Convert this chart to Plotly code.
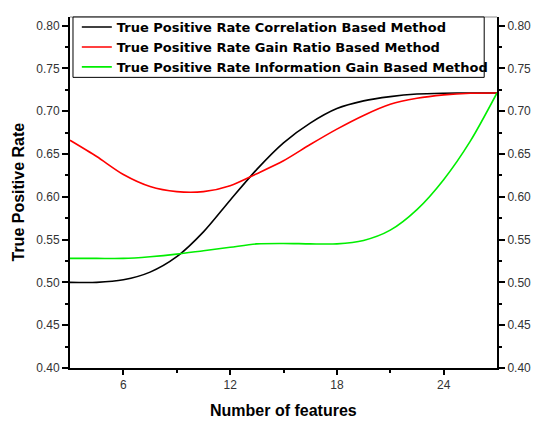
import plotly.graph_objects as go

features = [3, 4.5, 6, 7.5, 9, 10.5, 12, 13.5, 15, 16.5, 18, 19.5, 21, 22.5, 24, 25.5, 27]
tpr_correlation = [0.500, 0.500, 0.503, 0.512, 0.530, 0.559, 0.596, 0.632, 0.663, 0.686,
                   0.703, 0.712, 0.717, 0.720, 0.721, 0.7213, 0.7213]
tpr_gain_ratio = [0.666, 0.647, 0.626, 0.612, 0.606, 0.606, 0.613, 0.627, 0.642, 0.661,
                  0.679, 0.695, 0.708, 0.715, 0.719, 0.721, 0.7213]
tpr_info_gain = [0.528, 0.528, 0.528, 0.530, 0.533, 0.537, 0.541, 0.545, 0.5455, 0.545,
                 0.545, 0.549, 0.561, 0.585, 0.620, 0.665, 0.7213]

series_names = [
    "True Positive Rate Correlation Based Method",
    "True Positive Rate Gain Ratio Based Method",
    "True Positive Rate Information Gain Based Method",
]
colors = ["#000000", "#ff0000", "#00ee00"]

x_ticks = [6, 12, 18, 24]
y_ticks = [0.40, 0.45, 0.50, 0.55, 0.60, 0.65, 0.70, 0.75, 0.80]
y_tick_text = ["%.2f" % v for v in y_ticks]

fig = go.Figure()
for name, ys, c in zip(series_names, [tpr_correlation, tpr_gain_ratio, tpr_info_gain], colors):
    fig.add_trace(go.Scatter(x=features, y=ys, mode="lines", name=name,
                             line=dict(color=c, width=1.6, shape="spline", smoothing=0.8)))

# invisible trace to carry the mirrored right axis
fig.add_trace(go.Scatter(x=[features[0]], y=[y_ticks[0]], yaxis="y2", mode="markers",
                         marker=dict(opacity=0), showlegend=False, hoverinfo="skip"))

tick_font = dict(family="Liberation Sans, Arial, sans-serif", size=12, color="#333333")
yrange = [0.40, 0.810]
minor_y = [0.425, 0.475, 0.525, 0.575, 0.625, 0.675, 0.725, 0.775]

fig.update_layout(
    width=543, height=421,
    margin=dict(l=70, r=35, t=14, b=53),
    paper_bgcolor="white", plot_bgcolor="white",
    showlegend=True,
    legend=dict(x=0.016, y=1.014, xanchor="left", yanchor="top",
                bgcolor="rgba(0,0,0,0)", borderwidth=0,
                font=dict(family="DejaVu Sans, sans-serif", size=13, color="#000000",
                          weight="bold"),
                tracegroupgap=0, itemwidth=30),
    xaxis=dict(range=[3, 27], tickmode="array", tickvals=x_ticks,
               ticks="outside", ticklen=5, tickwidth=2, tickcolor="#000000",
               showline=True, linecolor="#000000", linewidth=2,
               showgrid=False, zeroline=False, tickfont=tick_font,
               minor=dict(tickvals=[9, 15, 21], ticks="outside", ticklen=3, tickwidth=2,
                          tickcolor="#000000", showgrid=False)),
    yaxis=dict(range=yrange, tickmode="array", tickvals=y_ticks, ticktext=y_tick_text,
               ticks="outside", ticklen=6, tickwidth=2, tickcolor="#000000",
               showline=True, linecolor="#000000", linewidth=2,
               showgrid=False, zeroline=False, tickfont=tick_font,
               minor=dict(tickvals=minor_y, ticks="outside", ticklen=3, tickwidth=2,
                          tickcolor="#000000", showgrid=False)),
    yaxis2=dict(range=yrange, overlaying="y", side="right", anchor="x",
                tickmode="array", tickvals=y_ticks, ticktext=y_tick_text,
                ticks="outside", ticklen=6, tickwidth=2, tickcolor="#000000",
                showline=True, linecolor="#000000", linewidth=2,
                showgrid=False, zeroline=False, tickfont=tick_font,
                minor=dict(tickvals=minor_y, ticks="outside", ticklen=3, tickwidth=2,
                           tickcolor="#000000", showgrid=False)),
    shapes=[
        dict(type="line", xref="paper", yref="paper", x0=0, x1=1, y0=1, y1=1,
             line=dict(color="#888888", width=1)),
        dict(type="rect", xref="paper", yref="paper", x0=0.007, x1=0.970, y0=0.828, y1=1.0,
             line=dict(color="#000000", width=1), fillcolor="white", layer="above"),
    ],
    annotations=[
        dict(text="<b>Number of features</b>", xref="paper", yref="paper",
             x=0.5, y=0, yshift=-42, xanchor="center", yanchor="middle", showarrow=False,
             font=dict(family="Liberation Sans, Arial, sans-serif", size=16, color="#000000")),
        dict(text="<b>True Positive Rate</b>", xref="paper", yref="paper",
             x=0, xshift=-52, y=0.5, xanchor="center", yanchor="middle", showarrow=False,
             textangle=-90,
             font=dict(family="Liberation Sans, Arial, sans-serif", size=16, color="#000000")),
    ],
)

fig.write_html("out.html")
